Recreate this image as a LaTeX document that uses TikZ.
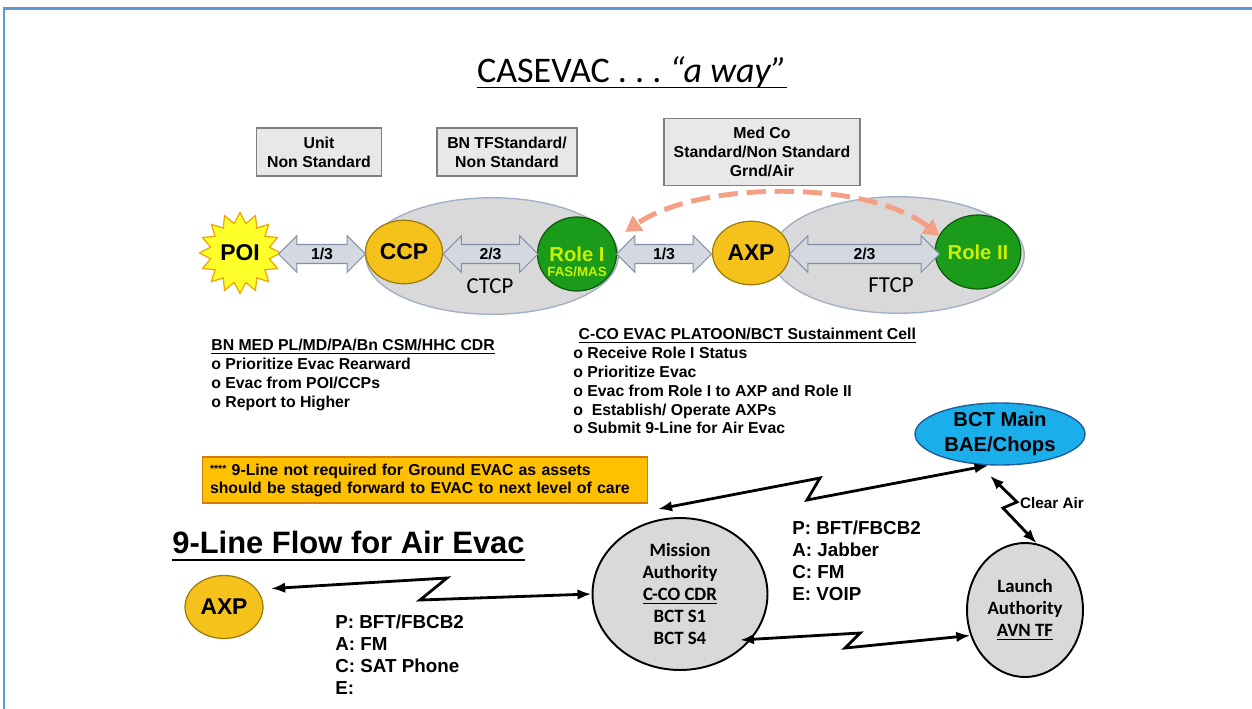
\documentclass[tikz,border=0pt]{standalone}
\usepackage{fontspec}
\setmainfont{Liberation Sans}
\newfontfamily\calfont{Carlito}
\usepackage{xcolor}
\usepackage{tikz}
\usetikzlibrary{arrows.meta,positioning,calc,shapes.geometric,shapes.arrows}

\definecolor{frameblue}{HTML}{5B9BD5}
\definecolor{boxgray}{HTML}{E8E8E8}
\definecolor{boxedge}{HTML}{7F7F7F}
\definecolor{tcpfill}{HTML}{D9D9D9}
\definecolor{tcpedge}{HTML}{A3B1C6}
\definecolor{gold}{HTML}{F5C21B}
\definecolor{goldedge}{HTML}{9C7A0C}
\definecolor{grn}{HTML}{1A9B1A}
\definecolor{grnedge}{HTML}{0E5A0E}
\definecolor{lime}{HTML}{CCF000}
\definecolor{poiyel}{HTML}{FFFF2A}
\definecolor{poiedge}{HTML}{F0A500}
\definecolor{arrfill}{HTML}{D4D8E0}
\definecolor{arredge}{HTML}{8391A8}
\definecolor{salmon}{HTML}{F4A084}
\definecolor{note}{HTML}{FFC000}
\definecolor{noteedge}{HTML}{D87A10}
\definecolor{bctblue}{HTML}{1AAEEB}
\definecolor{bctedge}{HTML}{1F5F99}

\begin{document}
\begin{tikzpicture}[x=0.02cm, y=-0.02cm, >=Latex,
  greybox/.style={draw=boxedge, fill=boxgray, line width=0.6pt, align=center, minimum height=0.96cm, font=\bfseries\fontsize{9}{10.9}\selectfont},
  tcp/.style={ellipse, draw=tcpedge, fill=tcpfill, line width=0.8pt, minimum width=5.05cm, minimum height=2.33cm},
  tcplbl/.style={font=\calfont\fontsize{13}{15}\selectfont},
  goldnode/.style={ellipse, draw=goldedge, fill=gold, line width=0.7pt, inner sep=0pt, minimum width=1.54cm, minimum height=1.27cm, font=\bfseries\fontsize{13}{15}\selectfont},
  rolenode/.style={ellipse, draw=grnedge, fill=grn, line width=0.7pt, inner sep=0pt, minimum width=1.58cm, minimum height=1.48cm, text=lime, font=\bfseries\fontsize{11.5}{13}\selectfont},
  fas/.style={text=lime, font=\bfseries\fontsize{7.6}{8}\selectfont},
  link/.style={double arrow, draw=arredge, fill=arrfill, line width=0.6pt, double arrow head extend=5.1pt, inner xsep=0pt, inner ysep=1.9pt, text height=6.4pt, text depth=0pt, font=\bfseries\fontsize{9}{9}\selectfont},
  medarr/.style={{Triangle[length=9pt,width=10pt]}-{Triangle[length=9pt,width=10pt]}, draw=salmon, line width=2.8pt, dash pattern=on 11pt off 5pt},
  duty/.style={align=left, anchor=north west, inner sep=0pt, font=\bfseries\fontsize{9}{10.7}\selectfont},
  comms/.style={align=left, anchor=north west, inner sep=0pt, font=\bfseries\fontsize{10.7}{12.4}\selectfont},
  authority/.style={ellipse, draw=black, fill=tcpfill, line width=1.1pt, align=center, inner sep=0pt, font=\calfont\bfseries\fontsize{10.7}{12.5}\selectfont},
  radio/.style={{Latex[length=8pt,width=6pt]}-{Latex[length=8pt,width=6pt]}, line width=1.6pt, line join=miter}]
  \useasboundingbox (0,0) rectangle (1252,708);
  \draw[frameblue, line width=1.7pt] (4,712) -- (4,8) -- (1256,8);

  \node[anchor=base, inner sep=0pt, font=\calfont\fontsize{20.5}{24}\selectfont] (title) at (632,82) {CASEVAC\ .\ .\ .\ \textit{“a way”}};
  \draw[line width=1.1pt] ($(title.base west)+(0,5.5)$) -- ($(title.base east)+(0,5.5)$);

  \node[greybox, minimum width=2.5cm] (unit) at (319,152) {Unit\\Non Standard};
  \node[greybox, minimum width=2.8cm] (bntf) at (507,152) {BN TFStandard/\\Non Standard};
  \node[greybox, minimum width=3.92cm, minimum height=1.34cm] (medco) at (762,152) {Med Co\\Standard/Non Standard\\Grnd/Air};

  \node[tcp] (ctcp) at (492,256) {};
  \node[tcp] (ftcp) at (898,255) {};
  \node[tcplbl] (ctcplbl) at (490,286) {CTCP};
  \node[tcplbl] (ftcplbl) at (891,285) {FTCP};

  \node[star, star points=16, star point ratio=1.35, minimum size=1.62cm, inner sep=0pt, draw=poiedge, fill=poiyel, line width=0.7pt, font=\bfseries\fontsize{13}{15}\selectfont] (poi) at (240,253) {POI};
  \node[goldnode] (ccp) at (404,252) {CCP};
  \node[rolenode, label={[fas, yshift=-10pt]center:FAS/MAS}] (role1) at (577,254) {Role I};
  \node[goldnode] (axp) at (751,253) {AXP};
  \node[rolenode] (role2) at (978,252) {Role II};

  \node[link, minimum height=1.74cm] (l1) at ($(poi)!0.5!(ccp)+(0,1.5)$) {1/3};
  \node[link, minimum height=1.9cm] (l2) at ($(ccp)!0.5!(role1)+(0,1)$) {2/3};
  \node[link, minimum height=1.9cm] (l3) at ($(role1)!0.5!(axp)+(0,0.5)$) {1/3};
  \node[link, minimum height=3cm] (l4) at ($(axp)!0.5!(role2)+(0,1.5)$) {2/3};

  \draw[medarr] ($(role2.west)+(5,-16)$) .. controls (870,180) and (700,180) .. ($(role1.east)+(8,-22)$);

  \node[duty] (bnmed) at (211,339) {\underline{BN MED PL/MD/PA/Bn CSM/HHC CDR}\\o Prioritize Evac Rearward\\o Evac from POI/CCPs\\o Report to Higher};
  \node[duty] (cco) at (573,328) {\hspace*{3pt}\underline{C-CO EVAC PLATOON/BCT Sustainment Cell}\\o Receive Role I Status\\o Prioritize Evac\\o Evac from Role I to AXP and Role II\\o\ \ Establish/ Operate AXPs\\o Submit 9-Line for Air Evac};

  \node[draw=noteedge, fill=note, line width=0.8pt, text width=8.6cm, inner xsep=0.15cm, minimum height=0.92cm, align=left, font=\bfseries\fontsize{9}{10.2}\selectfont] (note) at (425,480) {\raisebox{1.5pt}{\fontsize{6}{6}\selectfont****} 9-Line not required for Ground EVAC as assets\\should be staged forward to EVAC to next level of care};

  \node[anchor=base west, inner sep=0pt, font=\bfseries\fontsize{17.6}{20}\selectfont] (flow) at (172,553) {9-Line Flow for Air Evac};
  \draw[line width=1.3pt] ($(flow.base west)+(0,7)$) -- ($(flow.base east)+(0,7)$);

  \node[goldnode, minimum width=1.56cm, minimum height=1.26cm] (axp2) at (224,607) {AXP};
  \node[authority, minimum width=3.5cm, minimum height=3.04cm] (ma) at (680,594) {Mission\\Authority\\\underline{C-CO CDR}\\BCT S1\\BCT S4};
  \node[authority, minimum width=2.32cm, minimum height=2.68cm] (la) at (1025,610) {Launch\\Authority\\\underline{AVN TF}};
  \node[ellipse, draw=bctedge, fill=bctblue, line width=0.8pt, align=center, inner sep=0pt, minimum width=3.4cm, minimum height=1.24cm, font=\bfseries\fontsize{11.5}{14}\selectfont] (bct) at (1000,434) {BCT Main\\BAE/Chops};

  \draw[radio, shorten <=8pt] (axp2.28) -- (447,578) -- (420,600) -- (ma.west);
  \draw[radio] ($(ma.north)+(-22,-8)$) -- (820,478) -- (807,500) -- (bct.250);
  \draw[radio] ($(ma)+(60,46)$) -- (860,633) -- (845,648) -- (la.205);
  \draw[radio] ($(bct.south)+(-10,10)$) -- (1017,502) -- (1003,508) -- (la.80);
  \node[font=\bfseries\fontsize{8.7}{10}\selectfont] (clr) at (1052,503) {Clear Air};

  \node[comms] (upcomms) at (792,521) {P: BFT/FBCB2\\A: Jabber\\C: FM\\E: VOIP};
  \node[comms] (lowcomms) at (335,615) {P: BFT/FBCB2\\A: FM\\C: SAT Phone\\E:};
\end{tikzpicture}
\end{document}
